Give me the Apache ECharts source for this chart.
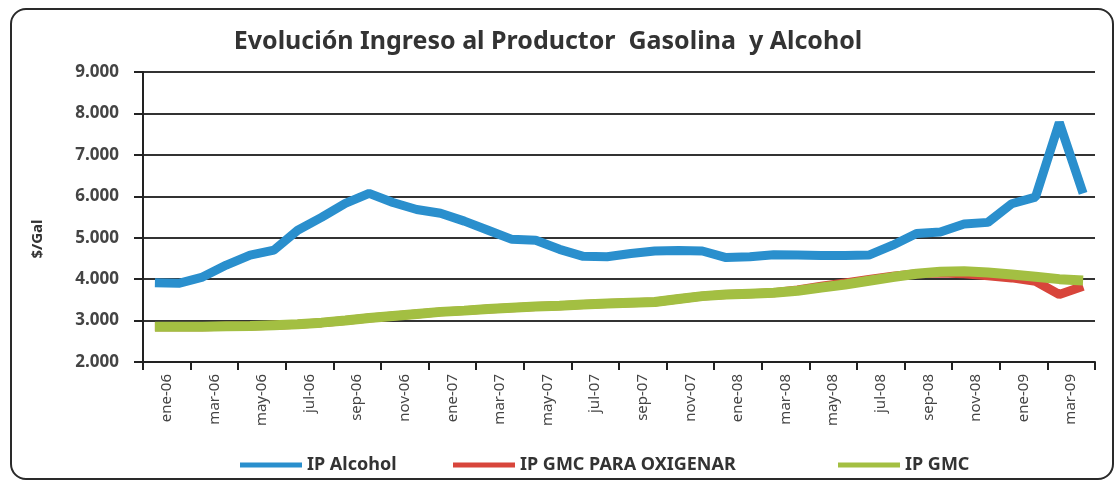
<!DOCTYPE html>
<html>
<head>
<meta charset="utf-8">
<script src="https://cdn.jsdelivr.net/npm/echarts@6/dist/echarts.min.js"></script>
<style>
  html, body { margin: 0; padding: 0; background: #fff; }
  #chart { width: 1116px; height: 486px; position: absolute; left: 0; top: 0; }
  #frame {
    position: absolute; left: 10px; top: 8px; width: 1104px; height: 472px;
    border: 2px solid #2a2a2a; border-radius: 16px; box-sizing: border-box;
  }
</style>
</head>
<body>
<div id="frame"></div>
<div id="chart"></div>
<script>
// months ene-06 .. abr-09
const months = [
  'ene-06','feb-06','mar-06','abr-06','may-06','jun-06','jul-06','ago-06','sep-06','oct-06','nov-06','dic-06',
  'ene-07','feb-07','mar-07','abr-07','may-07','jun-07','jul-07','ago-07','sep-07','oct-07','nov-07','dic-07',
  'ene-08','feb-08','mar-08','abr-08','may-08','jun-08','jul-08','ago-08','sep-08','oct-08','nov-08','dic-08',
  'ene-09','feb-09','mar-09','abr-09'
];
const tickLabels = [
  'ene-06','mar-06','may-06','jul-06','sep-06','nov-06','ene-07','mar-07','may-07','jul-07',
  'sep-07','nov-07','ene-08','mar-08','may-08','jul-08','sep-08','nov-08','ene-09','mar-09'
];
const yTicks = [2000, 9000, 1000]; // min, max, step

const ipAlcohol = [
  3910, 3900, 4050, 4340, 4580, 4700, 5180, 5490, 5830, 6070, 5850, 5680,
  5590, 5400, 5180, 4960, 4940, 4720, 4550, 4540, 4620, 4680, 4690, 4680,
  4520, 4540, 4590, 4580, 4570, 4570, 4580, 4820, 5100, 5140, 5330, 5370,
  5820, 5980, 7780, 6070
];
const ipGmcOxigenar = [
  2850, 2850, 2850, 2860, 2870, 2890, 2910, 2950, 3000, 3060, 3110, 3160,
  3210, 3240, 3280, 3310, 3340, 3360, 3390, 3410, 3430, 3450, 3520, 3590,
  3630, 3650, 3670, 3740, 3830, 3910, 3990, 4070, 4130, 4150, 4130, 4080,
  4030, 3950, 3630, 3830
];
const ipGmc = [
  2850, 2850, 2850, 2860, 2870, 2890, 2910, 2950, 3000, 3060, 3110, 3160,
  3210, 3240, 3280, 3310, 3340, 3360, 3390, 3410, 3430, 3450, 3520, 3590,
  3630, 3650, 3670, 3720, 3800, 3870, 3960, 4050, 4130, 4180, 4190, 4160,
  4110, 4060, 4000, 3970
];

const font = '"Noto Sans", "DejaVu Sans", sans-serif';
const blue = '#2a8fcd';
const red = '#d8453b';
const green = '#a3bf42';

const chart = echarts.init(document.getElementById('chart'));

const legendText = { fontFamily: font, fontSize: 18, fontWeight: 'bold', color: '#333' };
const mkLegend = (name, left) => ({
  data: [name],
  left: left,
  top: 451,
  itemWidth: 62,
  itemHeight: 5,
  itemGap: 4,
  icon: 'rect',
  textStyle: legendText,
  selectedMode: false
});

chart.setOption({
  animation: false,
  backgroundColor: 'transparent',
  title: {
    text: 'Evolución Ingreso al Productor  Gasolina  y Alcohol',
    left: 543,
    textAlign: 'center',
    top: 24,
    textStyle: { fontFamily: font, fontSize: 25, fontWeight: 'bold', color: '#333' }
  },
  legend: [
    mkLegend('IP Alcohol', 235),
    mkLegend('IP GMC PARA OXIGENAR', 448),
    mkLegend('IP GMC', 833)
  ],
  grid: { left: 143, right: 21, top: 72, bottom: 124 },
  xAxis: [
    {
      type: 'category',
      data: tickLabels,
      boundaryGap: true,
      axisLine: { lineStyle: { color: '#222', width: 2 } },
      axisTick: { show: true, length: 8, lineStyle: { color: '#222', width: 2 } },
      axisLabel: {
        rotate: 90, margin: 12, interval: 0,
        fontFamily: font, fontSize: 15, color: '#444'
      },
      splitLine: { show: false }
    },
    {
      type: 'category',
      data: months,
      boundaryGap: true,
      show: false
    }
  ],
  yAxis: {
    type: 'value',
    min: yTicks[0],
    max: yTicks[1],
    interval: yTicks[2],
    name: '$/Gal',
    nameLocation: 'middle',
    nameGap: 98,
    nameTextStyle: {
      fontFamily: font, fontSize: 15, fontWeight: 'bold', color: '#333',
      padding: [0, 44, 0, 0]
    },
    axisLine: { show: true, lineStyle: { color: '#222', width: 2 } },
    axisTick: { show: true, length: 9, lineStyle: { color: '#222', width: 2 } },
    axisLabel: {
      margin: 24,
      fontFamily: font, fontSize: 17, fontWeight: 'bold', color: '#444',
      formatter: v => (v / 1000).toFixed(3)
    },
    splitLine: { lineStyle: { color: '#333', width: 2 } }
  },
  series: [
    {
      name: 'IP Alcohol', type: 'line', xAxisIndex: 1, data: ipAlcohol,
      showSymbol: false, lineStyle: { color: blue, width: 9 }, itemStyle: { color: blue }, z: 4
    },
    {
      name: 'IP GMC PARA OXIGENAR', type: 'line', xAxisIndex: 1, data: ipGmcOxigenar,
      showSymbol: false, lineStyle: { color: red, width: 9 }, itemStyle: { color: red }, z: 2
    },
    {
      name: 'IP GMC', type: 'line', xAxisIndex: 1, data: ipGmc,
      showSymbol: false, lineStyle: { color: green, width: 10 }, itemStyle: { color: green }, z: 3
    }
  ]
});
</script>
</body>
</html>
